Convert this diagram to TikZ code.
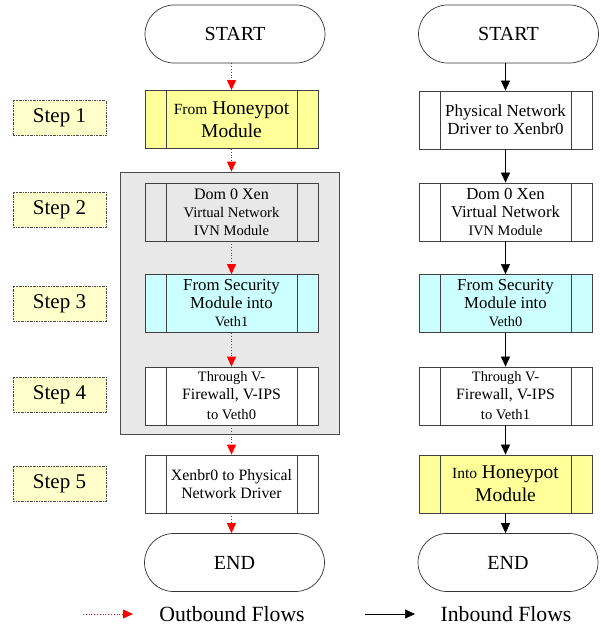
\documentclass[tikz,border=0pt]{standalone}
\usepackage{fontspec}
\setmainfont{Liberation Serif}
\usetikzlibrary{arrows.meta,shapes.misc}
\definecolor{boxyellow}{RGB}{255,255,153}
\definecolor{boxcyan}{RGB}{204,255,255}
\definecolor{labelyellow}{RGB}{255,255,204}
\definecolor{panelgrey}{RGB}{232,232,232}
\newcommand{\txtsize}[1]{\fontsize{#1}{18}\selectfont}

\tikzset{
  terminal/.style={rounded rectangle, draw=black!80, line width=0.7pt,
    minimum width=180, minimum height=58, inner sep=0, font=\txtsize{20}},
  process/.style={rectangle, draw=black!75, line width=0.8pt,
    minimum width=173, minimum height=58, inner sep=0, align=center,
    font=\txtsize{16},
    path picture={
      \draw[black!75, line width=0.8pt]
        ([xshift=21]path picture bounding box.north west) -- ([xshift=21]path picture bounding box.south west)
        ([xshift=-21]path picture bounding box.north east) -- ([xshift=-21]path picture bounding box.south east);
    }},
  steplabel/.style={rectangle, draw=black!70, fill=labelyellow, line width=0.6pt,
    dash pattern=on 2pt off 1pt on 0.6pt off 1pt,
    minimum width=93, minimum height=35, inner sep=0, font=\txtsize{21}},
  outflow/.style={draw=red, line width=0.8pt, dotted, -{Triangle[width=9pt,length=10pt]}},
  inflow/.style={draw=black, line width=0.6pt, -{Triangle[width=9pt,length=10pt]}},
}

\begin{document}
\begin{tikzpicture}[x=1pt,y=-1pt]
    \useasboundingbox (0,0) rectangle (600,629);

    % Grey panel behind steps 2 to 4
    \node[rectangle, draw=black!70, fill=panelgrey, line width=0.8pt,
          minimum width=219, minimum height=262, inner sep=0] (panel) at (229.5,303) {};

    % Step labels
    \foreach \i/\y in {1/118, 2/209.5, 3/303.5, 4/394.5, 5/483.5} {
        \node[steplabel] (step\i) at (59.5,\y) {Step \i};
    }

    % Outbound column
    \node[terminal] (startL) at (235,34) {START};
    \node[process, fill=boxyellow, font=\fontsize{19.5}{23}\selectfont] (outA) at (231.5,119.5)
        {{\fontsize{15.5}{23}\selectfont From} Honeypot\\Module};
    \node[process] (outB) at (231.5,212)
        {\txtsize{16}Dom 0 Xen\\\txtsize{14.7}Virtual Network\\\txtsize{14.6}IVN Module};
    \node[process, fill=boxcyan] (outC) at (231.5,303.5)
        {\txtsize{16.8}From Security\\\txtsize{16.8}Module into\\\txtsize{14.3}Veth1};
    \node[process, fill=white] (outD) at (231.5,396)
        {\txtsize{14.4}Through V-\\\txtsize{15.8}Firewall, V-IPS\\[2pt]\txtsize{14.6}to Veth0};
    \node[process, fill=white] (outE) at (231.5,484)
        {\txtsize{15.8}Xenbr0 to Physical\\\txtsize{15.8}Network Driver};
    \node[terminal] (endL) at (234.5,562.5) {END};

    % Inbound column
    \node[terminal] (startR) at (508.5,34) {START};
    \node[process] (inA) at (505.5,120)
        {\txtsize{16.9}Physical Network\\\txtsize{16.9}Driver to Xenbr0};
    \node[process] (inB) at (505.5,212)
        {\txtsize{16.8}Dom 0 Xen\\\txtsize{16.7}Virtual Network\\\txtsize{14.4}IVN Module};
    \node[process, fill=boxcyan] (inC) at (505.5,303.5)
        {\txtsize{16.8}From Security\\\txtsize{16.8}Module into\\\txtsize{14.3}Veth0};
    \node[process] (inD) at (505.5,396)
        {\txtsize{14.4}Through V-\\\txtsize{15.8}Firewall, V-IPS\\[2pt]\txtsize{14.6}to Veth1};
    \node[process, fill=boxyellow, font=\fontsize{19.5}{23}\selectfont] (inE) at (505.5,484)
        {{\fontsize{15.5}{23}\selectfont Into} Honeypot\\Module};
    \node[terminal] (endR) at (508,562.5) {END};

    % Outbound flow
    \draw[outflow] (startL.south -| outA.north) -- (outA.north);
    \draw[outflow] (outA.south) -- (panel.north -| outA.south);
    \draw[outflow] (outB.south) -- (outC.north);
    \draw[outflow] (outC.south) -- (outD.north);
    \draw[outflow] (outD.south) -- (outE.north);
    \draw[outflow] (outE.south) -- (endL.north -| outE.south);

    % Inbound flow
    \draw[inflow] (startR.south -| inA.north) -- (inA.north);
    \draw[inflow] (inA.south) -- (inB.north);
    \draw[inflow] (inB.south) -- (inC.north);
    \draw[inflow] (inC.south) -- (inD.north);
    \draw[inflow] (inD.south) -- (inE.north);
    \draw[inflow] (inE.south) -- (endR.north -| inE.south);

    % Legend
    \coordinate (outTail) at (83,614);
    \coordinate (outHead) at (133,614);
    \coordinate (inTail) at (365,614);
    \coordinate (inHead) at (415,614);
    \draw[outflow] (outTail) -- (outHead);
    \node[font=\txtsize{21.7}] (outText) at (232,614) {Outbound Flows};
    \draw[inflow] (inTail) -- (inHead);
    \node[font=\txtsize{21.7}] (inText) at (506,614) {Inbound Flows};
\end{tikzpicture}
\end{document}
